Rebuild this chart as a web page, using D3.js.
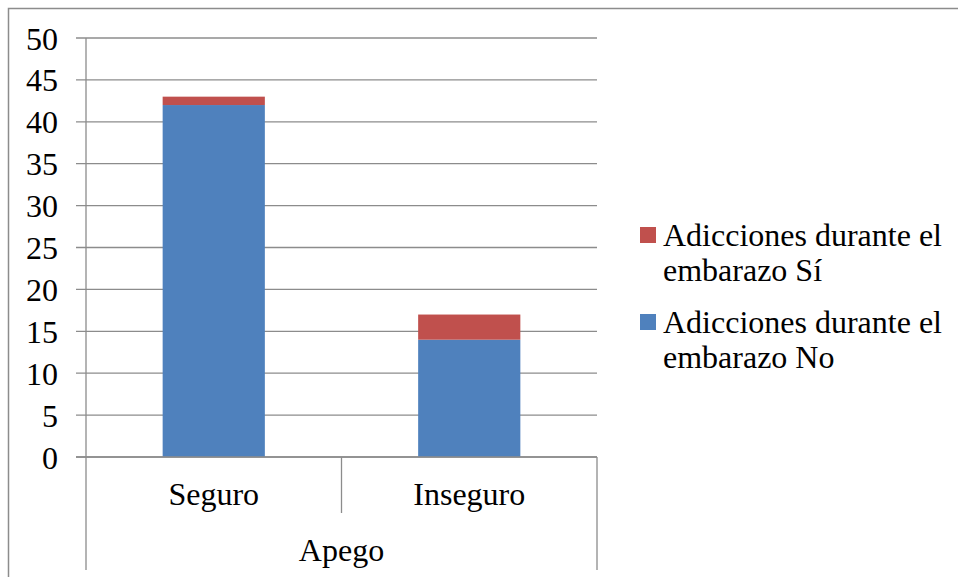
<!DOCTYPE html>
<html><head><meta charset="utf-8">
<script src="https://cdn.jsdelivr.net/npm/d3@7"></script>
<style>
html,body{margin:0;padding:0;background:#fff;}
svg{display:block;}
</style></head>
<body>
<svg id="c" width="958" height="577"></svg>
<script>
const categories = ["Seguro", "Inseguro"];
const groupLabel = "Apego";
const seriesNames = ["Adicciones durante el embarazo No", "Adicciones durante el embarazo Sí"];
const valuesNo = [42, 14];
const valuesSi = [1, 3];
const yTicks = [0, 5, 10, 15, 20, 25, 30, 35, 40, 45, 50];
const colors = ["#4F81BD", "#C0504D"];

(function () {
const svg = d3.select("#c");
const pLeft = 86, pRight = 597, pTop = 38, pBottom = 457;
const grid = "#8c8c8c";
const fs = 32;
const ff = "'Liberation Serif', 'Times New Roman', serif";

// outer border (top and left)
svg.append("path").attr("d", "M8.5,577 L8.5,8.5 L958,8.5")
  .attr("fill", "none").attr("stroke", grid).attr("stroke-width", 1.5);

const y = d3.scaleLinear().domain([0, 50]).range([pBottom, pTop]);
const x = d3.scaleBand().domain(categories).range([pLeft, pRight]).paddingInner(0.6).paddingOuter(0.3);

// gridlines
svg.append("g").selectAll("line").data(yTicks).join("line")
  .attr("x1", pLeft - 10).attr("x2", pRight)
  .attr("y1", d => y(d)).attr("y2", d => y(d))
  .attr("stroke", grid).attr("stroke-width", 1.3);

// y labels
svg.append("g").selectAll("text").data(yTicks).join("text")
  .style("font-family", ff)
  .attr("x", 58).attr("y", d => y(d)).attr("dy", "0.36em")
  .attr("text-anchor", "end").attr("font-size", fs).attr("fill", "#000")
  .text(d => d);

// stacked bars
const table = categories.map((c, i) => ({cat: c, no: valuesNo[i], si: valuesSi[i]}));
const stack = d3.stack().keys(["no", "si"])(table);
svg.append("g").selectAll("g").data(stack).join("g")
  .attr("fill", (d, i) => colors[i])
  .selectAll("rect").data(d => d).join("rect")
  .attr("x", d => x(d.data.cat)).attr("width", x.bandwidth())
  .attr("y", d => y(d[1])).attr("height", d => y(d[0]) - y(d[1]));

// axes lines
const ln = (x1, y1, x2, y2) => svg.append("line").attr("x1", x1).attr("y1", y1).attr("x2", x2).attr("y2", y2)
  .attr("stroke", grid).attr("stroke-width", 1.3);
ln(pLeft, pTop, pLeft, 570);
ln(pRight, pBottom, pRight, 570);
ln((pLeft + pRight) / 2, pBottom, (pLeft + pRight) / 2, 513);
ln(pLeft - 10, pBottom, pRight, pBottom);

// category labels
svg.append("g").selectAll("text").data(categories).join("text")
  .style("font-family", ff)
  .attr("x", d => x(d) + x.bandwidth() / 2).attr("y", 505)
  .attr("text-anchor", "middle").attr("font-size", fs).text(d => d);
svg.append("text").style("font-family", ff).attr("x", (pLeft + pRight) / 2).attr("y", 561)
  .attr("text-anchor", "middle").attr("font-size", fs).text(groupLabel);

// legend (Sí first, then No)
const legendItems = [
  {lines: ["Adicciones durante el", "embarazo Sí"], color: colors[1]},
  {lines: ["Adicciones durante el", "embarazo No"], color: colors[0]}
];
const lg = svg.append("g").selectAll("g").data(legendItems).join("g")
  .attr("transform", (d, i) => `translate(640,${227 + i * 87})`);
lg.append("rect").attr("width", 16).attr("height", 16).attr("fill", d => d.color);
lg.append("text").style("font-family", ff).attr("font-size", fs).selectAll("tspan").data(d => d.lines).join("tspan")
  .attr("x", 23).attr("y", (d, i) => 19 + i * 35).text(d => d);
})();
</script>
</body></html>
